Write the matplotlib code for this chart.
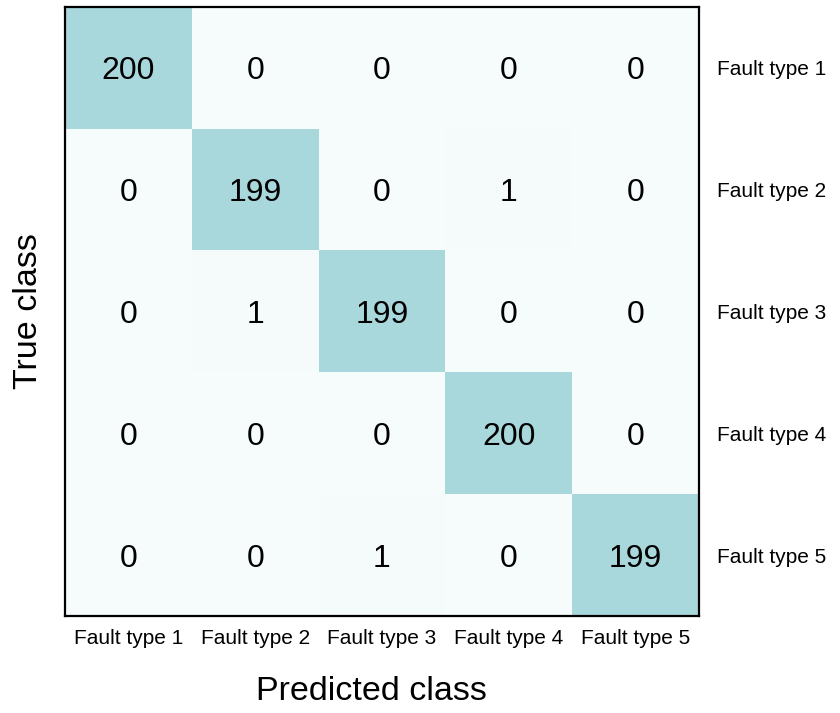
import numpy as np
import matplotlib.pyplot as plt
from matplotlib.colors import LinearSegmentedColormap

plt.rcParams['font.family'] = ['Liberation Sans', 'DejaVu Sans']

classes = ["Fault type 1", "Fault type 2", "Fault type 3", "Fault type 4", "Fault type 5"]
cm = np.array([
    [200, 0, 0, 0, 0],
    [0, 199, 0, 1, 0],
    [0, 1, 199, 0, 0],
    [0, 0, 0, 200, 0],
    [0, 0, 1, 0, 199],
])

cmap = LinearSegmentedColormap.from_list("teal", ["#f6fbfc", "#a8d7dc"])

fig = plt.figure(figsize=(8.4, 7.13), dpi=100)
ax = fig.add_axes([65 / 840, 1 - 616 / 713, 634 / 840, 609 / 713])
ax.imshow(cm, cmap=cmap, vmin=0, vmax=200, aspect='auto', interpolation='nearest')

for i in range(cm.shape[0]):
    for j in range(cm.shape[1]):
        ax.text(j, i, str(cm[i, j]), ha='center', va='center_baseline',
                fontsize=23, color='black')

ax.set_xticks(range(len(classes)))
ax.set_xticklabels(classes, fontsize=15)
ax.set_yticks(range(len(classes)))
ax.set_yticklabels(classes, fontsize=15)
ax.yaxis.tick_right()
ax.tick_params(axis='x', length=0, pad=9)
ax.tick_params(axis='y', length=0, pad=13)

for s in ax.spines.values():
    s.set_linewidth(1.6)

ax.set_xlabel("Predicted class", fontsize=24.5)
ax.xaxis.set_label_coords((371 - 65) / 634, -0.098)
ax.set_ylabel("True class", fontsize=24.5, labelpad=15)
ax.yaxis.set_label_position('left')

fig.savefig("out.png", dpi=100)
